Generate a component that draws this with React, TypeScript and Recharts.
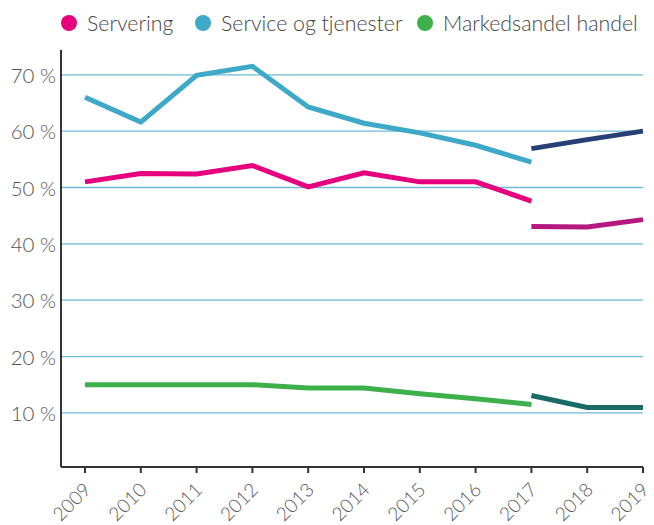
import { Line, LineChart, ReferenceLine, XAxis, YAxis } from "recharts";

const years = ["2009", "2010", "2011", "2012", "2013", "2014", "2015", "2016", "2017", "2018", "2019"];

// old method 2009-2017, new method 2017-2019
const servering = [51.0, 52.5, 52.4, 53.9, 50.1, 52.6, 51.0, 51.0, 47.6, null, null];
const serveringNy = [null, null, null, null, null, null, null, null, 43.1, 43.0, 44.3];
const service = [66.0, 61.6, 69.9, 71.5, 64.3, 61.4, 59.7, 57.5, 54.5, null, null];
const serviceNy = [null, null, null, null, null, null, null, null, 56.9, 58.5, 60.0];
const handel = [15.0, 15.0, 15.0, 15.0, 14.4, 14.4, 13.4, 12.5, 11.5, null, null];
const handelNy = [null, null, null, null, null, null, null, null, 13.1, 10.95, 10.95];

const yTicks = [10, 20, 30, 40, 50, 60, 70];

const legendItems = [
  { name: "Servering", color: "#e6007e" },
  { name: "Service og tjenester", color: "#3ea8c8" },
  { name: "Markedsandel handel", color: "#3db04b" },
];
const legendLeft = [61, 195, 417];

const data = years.map((year, i) => ({
  year,
  servering: servering[i],
  serveringNy: serveringNy[i],
  service: service[i],
  serviceNy: serviceNy[i],
  handel: handel[i],
  handelNy: handelNy[i],
}));

const font = "Lato, 'Open Sans', sans-serif";

function YearTick({ x, y, payload }: any) {
  return (
    <text
      x={x + 7}
      y={y + 16}
      transform={`rotate(-45, ${x + 7}, ${y + 16})`}
      textAnchor="end"
      fontSize={19}
      fontFamily={font}
      fontWeight={300}
      fill="#555"
    >
      {payload.value}
    </text>
  );
}

function Legend() {
  return (
    <div style={{ fontFamily: font, fontWeight: 300, fontSize: 21.3, color: "#444" }}>
      {legendItems.map((item, i) => (
        <div
          key={item.name}
          style={{
            position: "absolute",
            left: legendLeft[i],
            top: 10,
            height: 26,
            display: "flex",
            alignItems: "center",
            whiteSpace: "nowrap",
          }}
        >
          <span
            style={{
              width: 16,
              height: 16,
              borderRadius: "50%",
              background: item.color,
              display: "inline-block",
              marginRight: 10,
            }}
          />
          <span>{item.name}</span>
        </div>
      ))}
    </div>
  );
}

export default function App() {
  return (
    <div style={{ position: "absolute", left: 0, top: 0, width: 654, height: 525, background: "#fff" }}>
      <Legend />
      <LineChart width={654} height={525} data={data} margin={{ top: 50, right: 11, bottom: 0, left: 0 }}>
        {yTicks.map((v) => (
          <ReferenceLine key={v} y={v} stroke="#6bbad3" strokeWidth={1.3} />
        ))}
        <XAxis
          dataKey="year"
          height={58}
          padding={{ left: 24, right: 0 }}
          axisLine={{ stroke: "#333", strokeWidth: 2 }}
          tickLine={{ stroke: "#333", strokeWidth: 2 }}
          tickSize={6}
          tick={<YearTick />}
          interval={0}
        />
        <YAxis
          width={61}
          domain={[0.4, 74.4]}
          allowDataOverflow
          ticks={yTicks}
          tickFormatter={(v) => `${v} %`}
          axisLine={{ stroke: "#333", strokeWidth: 2 }}
          tickLine={false}
          tickSize={0}
          tickMargin={5}
          tick={{ fontSize: 20.5, fontFamily: font, fontWeight: 300, fill: "#555", dy: 1 }}
        />
        <Line dataKey="servering" stroke="#e6007e" strokeWidth={5} dot={false} isAnimationActive={false} />
        <Line dataKey="serveringNy" stroke="#b5187f" strokeWidth={5} dot={false} isAnimationActive={false} />
        <Line dataKey="service" stroke="#3ea8c8" strokeWidth={5} dot={false} isAnimationActive={false} />
        <Line dataKey="serviceNy" stroke="#263f74" strokeWidth={5} dot={false} isAnimationActive={false} />
        <Line dataKey="handel" stroke="#3db04b" strokeWidth={5} dot={false} isAnimationActive={false} />
        <Line dataKey="handelNy" stroke="#196b66" strokeWidth={5} dot={false} isAnimationActive={false} />
      </LineChart>
    </div>
  );
}
